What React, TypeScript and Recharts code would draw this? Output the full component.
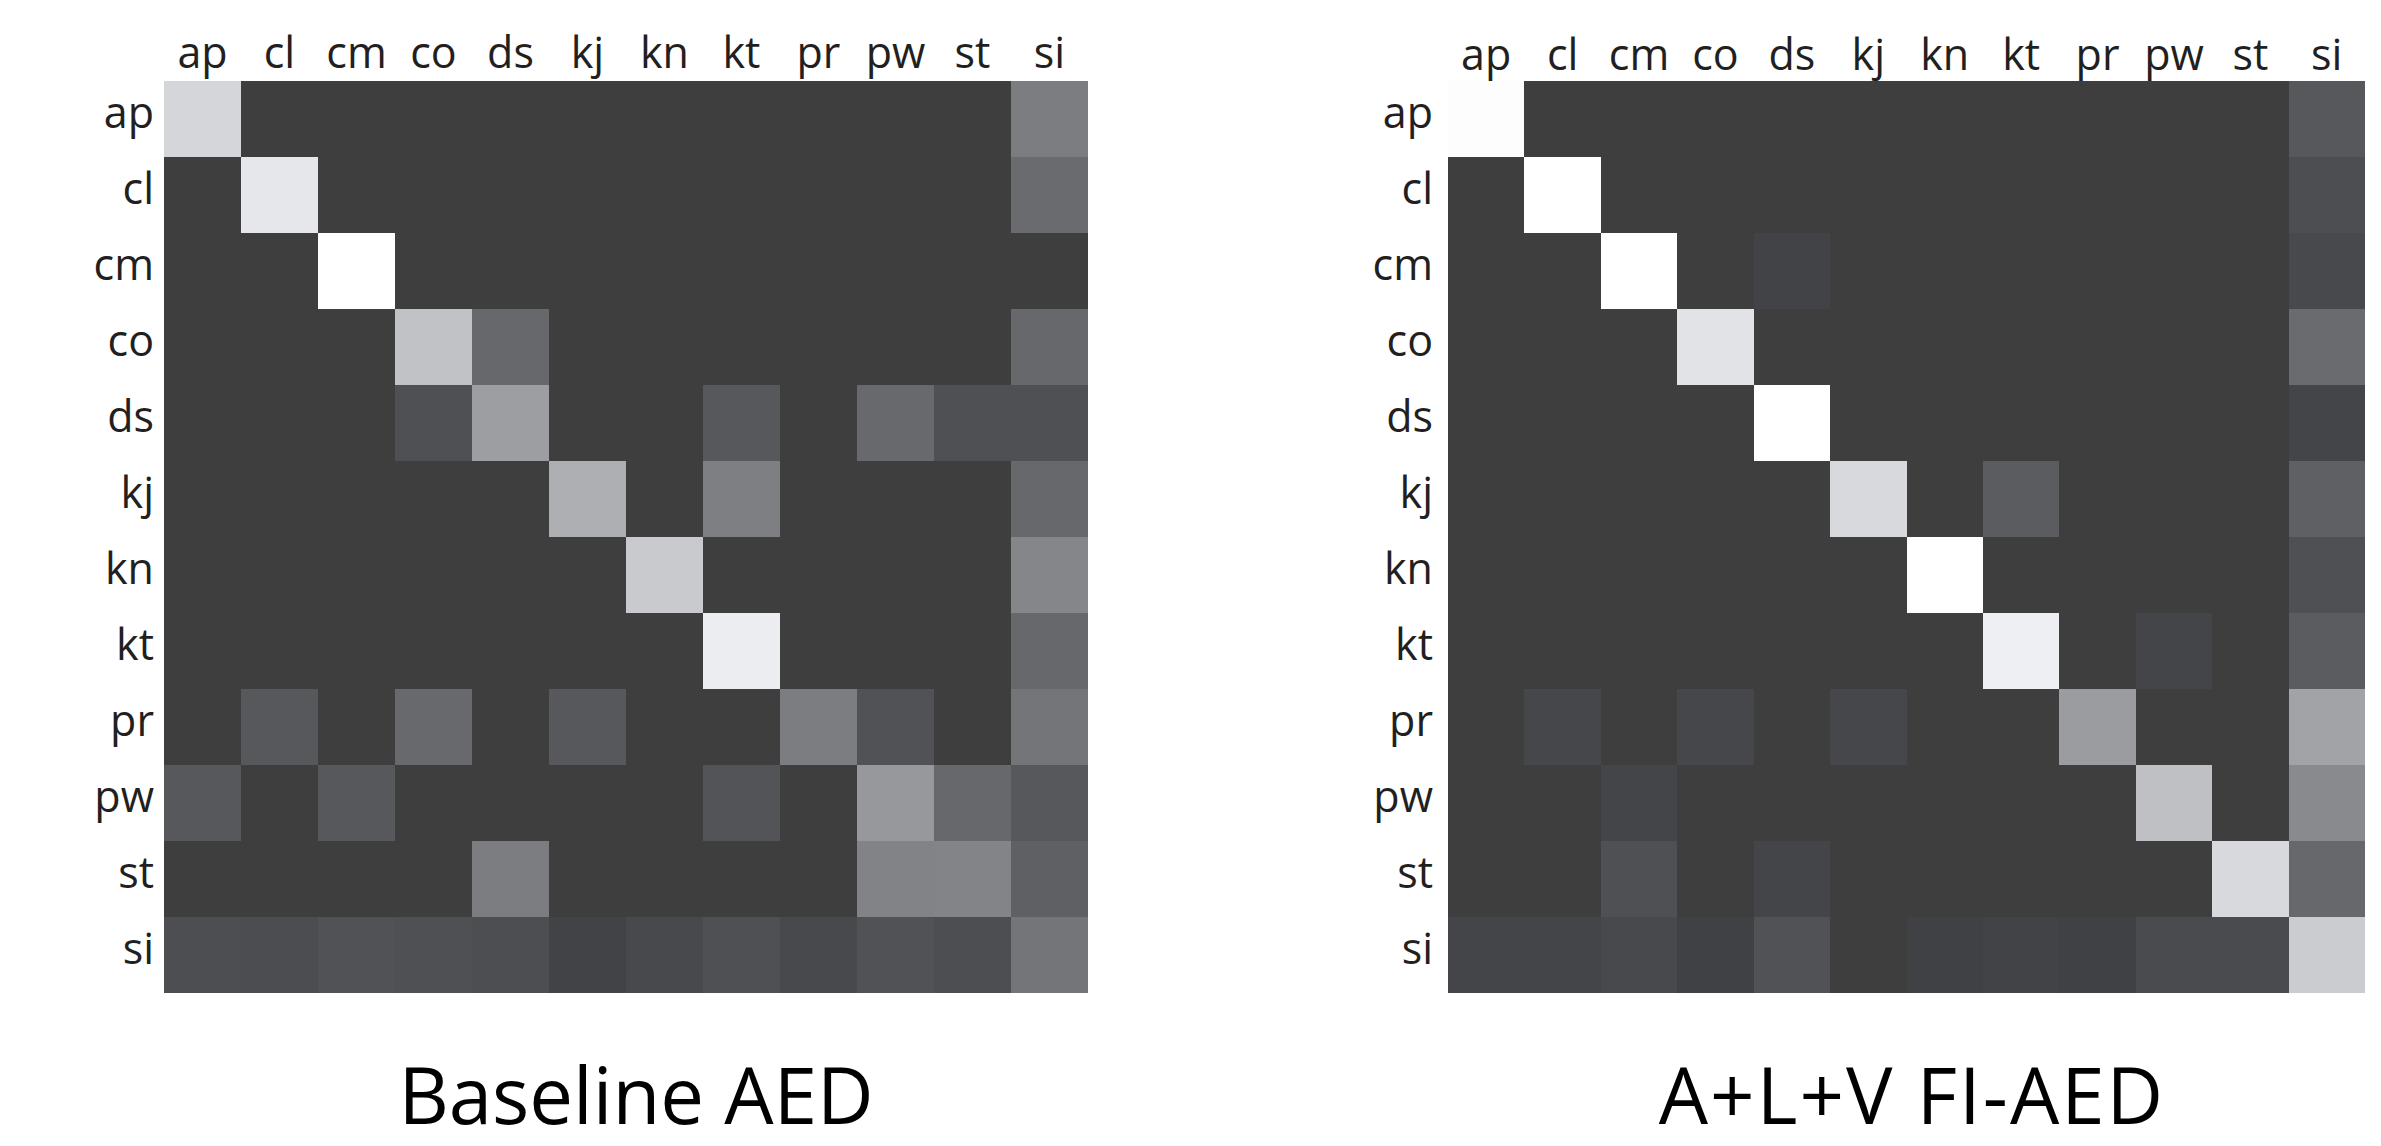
import React from 'react';
import { BarChart, Bar, XAxis, YAxis, Cell } from 'recharts';

// categories (rows and columns share the same labels)
const LABELS = ['ap', 'cl', 'cm', 'co', 'ds', 'kj', 'kn', 'kt', 'pr', 'pw', 'st', 'si'];
const COL_TICKS = [0.5, 1.5, 2.5, 3.5, 4.5, 5.5, 6.5, 7.5, 8.5, 9.5, 10.5, 11.5];

// panel titles
const TITLE_LEFT = 'Baseline AED';
const TITLE_RIGHT = 'A+L+V FI-AED';

// intensity (0 = dark, 1 = white), rows = true class, cols = predicted
const baselineAED = [
  //  ap    cl    cm    co    ds    kj    kn    kt    pr    pw    st    si
  [0.78, 0, 0, 0, 0, 0, 0, 0, 0, 0, 0, 0.32], // ap
  [0, 0.87, 0, 0, 0, 0, 0, 0, 0, 0, 0, 0.23], // cl
  [0, 0, 1.0, 0, 0, 0, 0, 0, 0, 0, 0, 0], // cm
  [0, 0, 0, 0.68, 0.21, 0, 0, 0, 0, 0, 0, 0.21], // co
  [0, 0, 0, 0.09, 0.49, 0, 0, 0.13, 0, 0.22, 0.09, 0.09], // ds
  [0, 0, 0, 0, 0, 0.58, 0, 0.33, 0, 0, 0, 0.21], // kj
  [0, 0, 0, 0, 0, 0, 0.72, 0, 0, 0, 0, 0.37], // kn
  [0, 0, 0, 0, 0, 0, 0, 0.9, 0, 0, 0, 0.21], // kt
  [0, 0.13, 0, 0.22, 0, 0.13, 0, 0, 0.32, 0.1, 0, 0.28], // pr
  [0.13, 0, 0.13, 0, 0, 0, 0, 0.11, 0, 0.46, 0.21, 0.13], // pw
  [0, 0, 0, 0, 0.32, 0, 0, 0, 0, 0.35, 0.36, 0.17], // st
  [0.08, 0.07, 0.1, 0.09, 0.08, 0.02, 0.05, 0.09, 0.05, 0.1, 0.08, 0.28], // si
];

const fiAED = [
  //  ap    cl    cm    co    ds    kj    kn    kt    pr    pw    st    si
  [0.99, 0, 0, 0, 0, 0, 0, 0, 0, 0, 0, 0.13], // ap
  [0, 1.0, 0, 0, 0, 0, 0, 0, 0, 0, 0, 0.08], // cl
  [0, 0, 1.0, 0, 0.02, 0, 0, 0, 0, 0, 0, 0.05], // cm
  [0, 0, 0, 0.85, 0, 0, 0, 0, 0, 0, 0, 0.23], // co
  [0, 0, 0, 0, 1.0, 0, 0, 0, 0, 0, 0, 0.03], // ds
  [0, 0, 0, 0, 0, 0.8, 0, 0.15, 0, 0, 0, 0.17], // kj
  [0, 0, 0, 0, 0, 0, 1.0, 0, 0, 0, 0, 0.09], // kn
  [0, 0, 0, 0, 0, 0, 0, 0.91, 0, 0.03, 0, 0.15], // kt
  [0, 0.04, 0, 0.04, 0, 0.04, 0, 0, 0.48, 0, 0, 0.52], // pr
  [0, 0, 0.03, 0, 0, 0, 0, 0, 0, 0.67, 0, 0.39], // pw
  [0, 0, 0.09, 0, 0.03, 0, 0, 0, 0, 0, 0.8, 0.21], // st
  [0.03, 0.03, 0.05, 0.01, 0.1, 0, 0.01, 0.02, 0.01, 0.06, 0.06, 0.73], // si
];

const FONT = "'Open Sans', 'Noto Sans', sans-serif";
const TEXT = '#231f20';

const grayOf = (v: number) => {
  const g = Math.round(62 + v * 193);
  const t = v > 0 && v < 0.98 ? 4 : 0;
  const c = (n: number) => Math.min(255, n);
  return `rgb(${c(g)},${c(g + (t ? 1 : 0))},${c(g + t)})`;
};

type PanelProps = {
  matrix: number[][];
  left: number;
  width: number;
  height: number;
  margin: { top: number; left: number; right: number; bottom: number };
  rowGap: number;
  colGap: number;
};

const Panel = ({ matrix, left, width, height, margin, rowGap, colGap }: PanelProps) => {
  const data = LABELS.map((r) => {
    const o: Record<string, any> = { row: r };
    LABELS.forEach((c) => (o[c] = 1));
    return o;
  });

  const XTick = (p: any) => {
    const idx = Math.floor(p.payload.value);
    return (
      <text x={p.x} y={p.y} textAnchor="middle" fontSize={43} fontFamily={FONT} fill={TEXT}>
        {LABELS[idx]}
      </text>
    );
  };
  const YTick = (p: any) => (
    <text x={p.x} y={p.y + 9} textAnchor="end" fontSize={43} fontFamily={FONT} fill={TEXT}>
      {p.payload.value}
    </text>
  );

  return (
    <div style={{ position: 'absolute', left, top: 0 }}>
      <BarChart
        width={width}
        height={height}
        data={data}
        layout="vertical"
        margin={margin}
        barCategoryGap={0}
        barGap={0}
      >
        <XAxis
          type="number"
          orientation="top"
          domain={[0, 12]}
          ticks={COL_TICKS}
          interval={0}
          height={60}
          axisLine={false}
          tickLine={false}
          tickSize={0}
          tickMargin={colGap}
          tick={XTick}
          allowDataOverflow
        />
        <YAxis
          type="category"
          dataKey="row"
          width={100}
          interval={0}
          axisLine={false}
          tickLine={false}
          tickSize={0}
          tickMargin={rowGap}
          tick={YTick}
        />
        {LABELS.map((c, j) => (
          <Bar key={c} dataKey={c} stackId="m" isAnimationActive={false}>
            {LABELS.map((r, i) => (
              <Cell
                key={r}
                fill={grayOf(matrix[i][j])}
                stroke="none"
                shapeRendering="crispEdges"
              />
            ))}
          </Bar>
        ))}
      </BarChart>
    </div>
  );
};

export default function App() {
  return (
    <div
      style={{
        position: 'absolute',
        left: 0,
        top: 0,
        width: 2381,
        height: 1146,
        background: '#ffffff',
        overflow: 'hidden',
      }}
    >
      <Panel
        matrix={baselineAED}
        left={0}
        width={1120}
        height={1010}
        margin={{ top: 21, left: 64, right: 32, bottom: 17 }}
        rowGap={10}
        colGap={13}
      />
      <Panel
        matrix={fiAED}
        left={1300}
        width={1081}
        height={1010}
        margin={{ top: 21, left: 48, right: 16, bottom: 17 }}
        rowGap={15}
        colGap={11}
      />
      <svg
        width={2381}
        height={1146}
        style={{ position: 'absolute', left: 0, top: 0, pointerEvents: 'none' }}
      >
        <text
          x={636}
          y={1124}
          textAnchor="middle"
          fontSize={78}
          fontFamily={FONT}
          fill="#000"
        >
          {TITLE_LEFT}
        </text>
        <text
          x={1912}
          y={1124}
          textAnchor="middle"
          fontSize={78}
          fontFamily={FONT}
          fill="#000"
          letterSpacing={2}
        >
          {TITLE_RIGHT}
        </text>
      </svg>
    </div>
  );
}
